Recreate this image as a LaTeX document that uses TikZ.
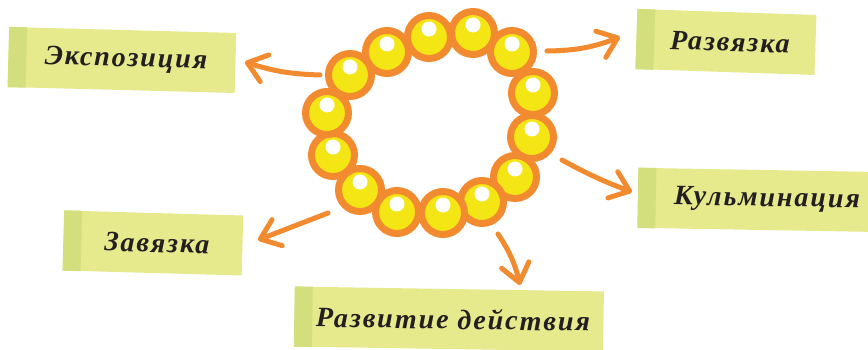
\documentclass[tikz,border=0pt]{standalone}
\usepackage{fontspec}
\newfontfamily\handfont{Liberation Serif}[LetterSpace=7]
\usetikzlibrary{arrows.meta,calc}
\definecolor{beadorange}{HTML}{F28A30}
\definecolor{beadyellow}{HTML}{F4E614}
\definecolor{notefill}{HTML}{E6E98C}
\definecolor{notestrip}{HTML}{D3DF7C}
\definecolor{inkblack}{HTML}{231F20}
\tikzset{
  bead/.style={circle, draw=beadorange, fill=beadyellow, line width=7pt, minimum size=43pt, inner sep=0pt},
  shine/.style={circle, fill=white, minimum size=15pt, inner sep=0pt},
  note/.style={fill=notefill, minimum height=60pt, inner sep=0pt, text=inkblack,
    font=\handfont\bfseries\itshape\fontsize{28}{30}\selectfont, execute at begin node=\hspace*{8pt}},
  pointer/.style={-{Straight Barb[length=18pt, width=28pt, round]}, line width=5pt, draw=beadorange, line cap=round}
}

\begin{document}
\begin{tikzpicture}[x=1pt, y=-1pt]
  \useasboundingbox (0,0) rectangle (868,350);

  % ring of beads
  \foreach \x/\y [count=\i] in {429/37, 473/33, 512/52, 533/93, 532/137, 515/177, 482/202,
                                443/213, 397/212, 360/190, 333/155, 327/113, 350/75, 387/52} {
    \node[bead] (b\i) at (\x,\y) {};
    \node[shine] (s\i) at ([yshift=8pt]b\i.center) {};
  }

  % sticky notes
  \node[note, minimum width=227pt, rotate=-1.5] (expo) at (122,60) {Экспозиция};
  \node[note, minimum width=179pt, rotate=-1.9] (razv) at (726,42) {Развязка};
  \node[note, minimum width=250pt, rotate=-1.0] (kulm) at (763,200) {Кульминация};
  \node[note, minimum width=179pt, rotate=-1.6] (zav) at (153,243) {Завязка};
  \node[note, minimum width=309pt, rotate=-0.9] (dev) at (449,319) {Развитие действия};
  \foreach \n in {expo,razv,kulm,zav,dev}
    \fill[notestrip] (\n.north west) -- ($(\n.north west)!18pt!(\n.north east)$)
      -- ($(\n.south west)!18pt!(\n.south east)$) -- (\n.south west) -- cycle;

  % arrows
  \coordinate (t1) at (320,75);  \coordinate (h1) at (245,62);
  \coordinate (t2) at (547,51);  \coordinate (h2) at (620,37);
  \coordinate (t3) at (562,160); \coordinate (h3) at (632,192);
  \coordinate (t4) at (328,213); \coordinate (h4) at (258,240);
  \coordinate (t5) at (498,234); \coordinate (h5) at (520,285);
  \draw[pointer] (t1) to[bend left=8] (h1);
  \draw[pointer] (t2) to[bend right=10] (h2);
  \draw[pointer] (t3) to[bend right=4] (h3);
  \draw[pointer] (t4) -- (h4);
  \draw[pointer] (t5) to[bend left=10] (h5);
\end{tikzpicture}
\end{document}
